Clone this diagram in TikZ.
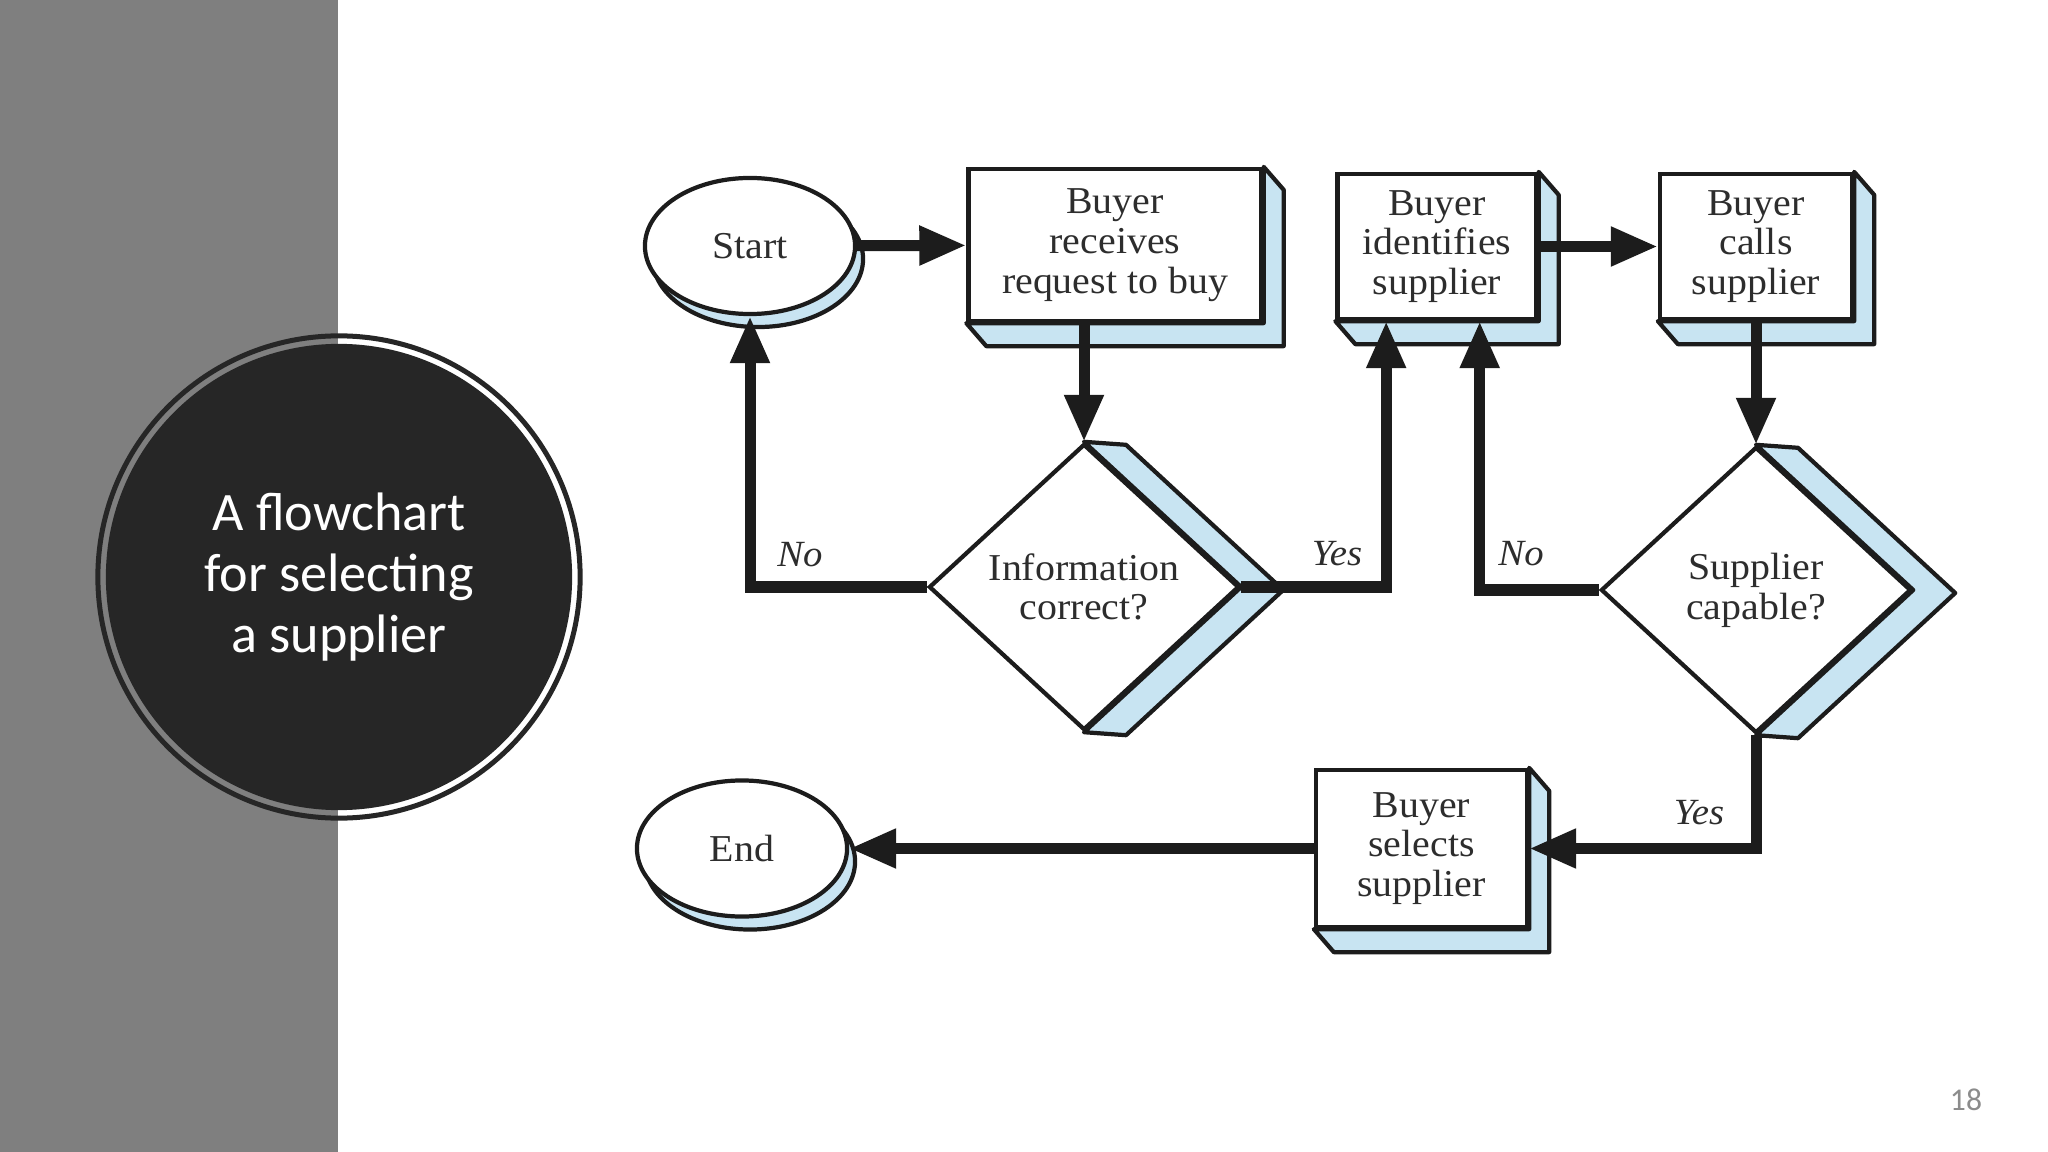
\documentclass[tikz,border=0pt]{standalone}
\usepackage{fontspec}
\setmainfont{Liberation Serif}
\newfontfamily\chartfont{Liberation Serif}[FakeStretch=1.05]
\newfontfamily\titlefont{Carlito}
\usetikzlibrary{shapes.geometric,arrows.meta,calc}
\pgfdeclarelayer{back}
\pgfsetlayers{back,main}

\definecolor{bandgray}{RGB}{127,127,127}
\definecolor{discdark}{RGB}{38,38,38}
\definecolor{sideblue}{RGB}{200,228,242}
\definecolor{inkdark}{RGB}{28,28,28}
\definecolor{textgray}{RGB}{45,45,45}
\definecolor{pagegray}{RGB}{140,140,140}

\tikzset{
  chartnode/.style={draw=inkdark, line width=1.2pt, fill=white, align=center,
    inner sep=1pt, text=textgray, font=\chartfont\fontsize{10.8}{11.3}\selectfont},
  stepbox/.style={chartnode, rectangle},
  termnode/.style={chartnode, ellipse, minimum width=2.1cm, minimum height=1.36cm},
  choice/.style={chartnode, diamond, aspect=1.08, minimum width=3.1cm, minimum height=2.86cm},
  sidefill/.style={fill=sideblue, draw=inkdark, line width=1.2pt, line join=round},
  flow/.style={draw=inkdark, line width=0.11cm,
    -{Triangle[length=0.47cm,width=0.37cm]}},
  branch/.style={text=textgray, font=\chartfont\itshape\fontsize{10.5}{12}\selectfont},
  titledisc/.style={circle, fill=discdark, minimum size=4.66cm, inner sep=0pt,
    text=white, align=center, font=\titlefont\fontsize{15.4}{17.3}\selectfont}
}

% depth of boxes, diamonds and ovals
\newcommand{\boxside}[1]{\draw[sidefill] (#1.north east) -- ++(20,23)
  -- ($(#1.south east)+(20,23)$) -- ($(#1.south west)+(20,23)$)
  -- (#1.south west) -- (#1.south east) -- cycle;}
\newcommand{\choiceside}[1]{\draw[sidefill] (#1.north) -- ++(42,3)
  -- ($(#1.east)+(42,3)$) -- ($(#1.south)+(42,3)$)
  -- (#1.south) -- (#1.east) -- cycle;}
\newcommand{\termside}[1]{\draw[sidefill] ($(#1.center)+(8,13)$)
  ellipse[x radius=1.05cm, y radius=0.68cm];}

\begin{document}
\begin{tikzpicture}[x=0.01cm, y=-0.01cm]
  \useasboundingbox (0,0) rectangle (2048,1152);
  \fill[bandgray] (0,0) rectangle (338,1152);

  % title disc
  \node[titledisc] (title) at (339,577) {A flowchart\\for selecting\\a supplier};
  \draw[discdark, line width=0.05cm] (title.center) circle[radius=2.41cm];

  % flowchart nodes
  \node[termnode] (start) at (750,246) {Start};
  \node[stepbox, minimum width=2.93cm, minimum height=1.52cm] (receive) at (1115,245)
    {Buyer\\receives\\request to buy};
  \node[stepbox, minimum width=1.99cm, minimum height=1.45cm] (identify) at (1437,246.5)
    {Buyer\\identifies\\supplier};
  \node[stepbox, minimum width=1.92cm, minimum height=1.45cm] (call) at (1756,246.5)
    {Buyer\\calls\\supplier};
  \node[choice] (info) at (1084,587) {Information\\correct?};
  \node[choice] (capable) at (1756,590) {Supplier\\capable?};
  \node[stepbox, minimum width=2.11cm, minimum height=1.57cm] (select) at (1421.5,848.5)
    {Buyer\\selects\\supplier};
  \node[termnode] (end) at (742,848.5) {End};

  \begin{pgfonlayer}{back}
    \termside{start}
    \termside{end}
    \boxside{receive}
    \boxside{identify}
    \boxside{call}
    \boxside{select}
    \choiceside{info}
    \choiceside{capable}
  \end{pgfonlayer}

  % connectors
  \draw[flow] (start) -- (receive);
  \draw[flow] (info.north |- receive.south) -- (info.north);
  \draw[flow] (info.west) -| (start.south);
  \draw[flow] (info.east) -| ($(identify.south west)!0.25!(identify.south east)$);
  \draw[flow] (identify) -- (call);
  \draw[flow] (call) -- (capable.north);
  \draw[flow] (capable.west) -| ($(identify.south west)!0.71!(identify.south east)$);
  \draw[flow] (capable.south) |- (select.east);
  \draw[flow] (select) -- (end);

  % branch labels
  \node[branch] (noleft) at (800,555) {No};
  \node[branch] (yesmid) at (1337,554) {Yes};
  \node[branch] (noright) at (1521,554) {No};
  \node[branch] (yeslow) at (1699,813) {Yes};

  \node[text=pagegray, font=\titlefont\fontsize{9}{11}\selectfont] (pagenum) at (1966,1100) {18};
\end{tikzpicture}
\end{document}
